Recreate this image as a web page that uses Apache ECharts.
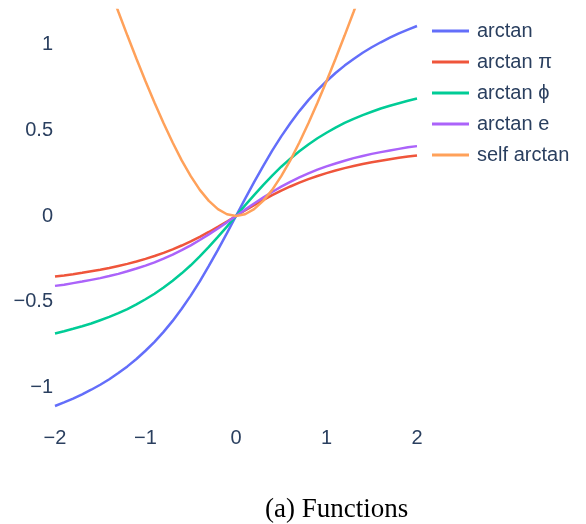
<!DOCTYPE html>
<html>
<head>
<meta charset="utf-8">
<script src="https://cdn.jsdelivr.net/npm/echarts@6/dist/echarts.min.js"></script>
<style>
  html, body { margin: 0; padding: 0; background: #fff; }
  #chart { width: 586px; height: 524px; }
</style>
</head>
<body>
<div id="chart"></div>
<script>
var xs = [-2, -1.9, -1.8, -1.7, -1.6, -1.5, -1.4, -1.3, -1.2, -1.1, -1, -0.9, -0.8, -0.7, -0.6, -0.5, -0.4, -0.3, -0.2, -0.1,
  0, 0.1, 0.2, 0.3, 0.4, 0.5, 0.6, 0.7, 0.8, 0.9, 1, 1.1, 1.2, 1.3, 1.4, 1.5, 1.6, 1.7, 1.8, 1.9, 2]

var arctanVals = [-1.107, -1.086, -1.064, -1.039, -1.012, -0.983, -0.951, -0.915, -0.876, -0.833, -0.785, -0.733, -0.675, -0.611, -0.540, -0.464, -0.381, -0.291, -0.197, -0.100,
  0, 0.100, 0.197, 0.291, 0.381, 0.464, 0.540, 0.611, 0.675, 0.733, 0.785, 0.833, 0.876, 0.915, 0.951, 0.983, 1.012, 1.039, 1.064, 1.086, 1.107]

var arctanPiVals = [-0.352, -0.346, -0.339, -0.331, -0.322, -0.313, -0.303, -0.291, -0.279, -0.265, -0.250, -0.233, -0.215, -0.194, -0.172, -0.148, -0.121, -0.093, -0.063, -0.032,
  0, 0.032, 0.063, 0.093, 0.121, 0.148, 0.172, 0.194, 0.215, 0.233, 0.250, 0.265, 0.279, 0.291, 0.303, 0.313, 0.322, 0.331, 0.339, 0.346, 0.352]

var arctanPhiVals = [-0.684, -0.671, -0.657, -0.642, -0.626, -0.607, -0.588, -0.566, -0.542, -0.515, -0.485, -0.453, -0.417, -0.377, -0.334, -0.287, -0.235, -0.180, -0.122, -0.062,
  0, 0.062, 0.122, 0.180, 0.235, 0.287, 0.334, 0.377, 0.417, 0.453, 0.485, 0.515, 0.542, 0.566, 0.588, 0.607, 0.626, 0.642, 0.657, 0.671, 0.684]

var arctanEVals = [-0.407, -0.400, -0.391, -0.382, -0.372, -0.362, -0.350, -0.337, -0.322, -0.306, -0.289, -0.270, -0.248, -0.225, -0.199, -0.171, -0.140, -0.107, -0.073, -0.037,
  0, 0.037, 0.073, 0.107, 0.140, 0.171, 0.199, 0.225, 0.248, 0.270, 0.289, 0.306, 0.322, 0.337, 0.350, 0.362, 0.372, 0.382, 0.391, 0.400, 0.407]

var selfArctanVals = [2.214, 2.064, 1.915, 1.767, 1.620, 1.474, 1.331, 1.190, 1.051, 0.916, 0.785, 0.660, 0.540, 0.428, 0.324, 0.232, 0.152, 0.088, 0.040, 0.010,
  0, 0.010, 0.040, 0.088, 0.152, 0.232, 0.324, 0.428, 0.540, 0.660, 0.785, 0.916, 1.051, 1.190, 1.331, 1.474, 1.620, 1.767, 1.915, 2.064, 2.214]

var seriesNames = ['arctan', 'arctan π', 'arctan ϕ', 'arctan e', 'self arctan']
var seriesColors = ['#636efa', '#EF553B', '#00cc96', '#ab63fa', '#FFA15A']
var seriesVals = [arctanVals, arctanPiVals, arctanPhiVals, arctanEVals, selfArctanVals]

function pairs(vals) {
  return xs.map(function(x, i) { return [x, vals[i]] })
}

function minusSign(v) {
  return String(v).replace('-', '\u2212')
}

var fontMain = 'Liberation Sans, Arial, sans-serif'
var labelColor = '#2a3f5f'

var series = seriesNames.map(function(name, i) {
  return {
    name: name,
    type: 'line',
    symbol: 'none',
    clip: true,
    data: pairs(seriesVals[i]),
    lineStyle: { width: 2.5, color: seriesColors[i] },
    itemStyle: { color: seriesColors[i] }
  }
})

var option = {
  animation: false,
  backgroundColor: '#fff',
  title: {
    text: '(a) Functions',
    left: 265,
    top: 496,
    padding: 0,
    textStyle: {
      fontFamily: 'Liberation Serif, Times New Roman, serif',
      fontSize: 27,
      fontWeight: 'normal',
      color: '#000'
    }
  },
  legend: {
    orient: 'vertical',
    left: 432,
    top: 21,
    padding: 0,
    icon: 'rect',
    itemWidth: 37,
    itemHeight: 3,
    itemGap: 11,
    textStyle: {
      fontFamily: fontMain,
      fontSize: 20,
      color: labelColor,
      padding: [0, 0, 0, 3]
    },
    data: seriesNames
  },
  grid: {
    left: 55,
    right: 169,
    top: 10,
    bottom: 102,
    containLabel: false
  },
  xAxis: {
    type: 'value',
    min: -2,
    max: 2,
    interval: 1,
    axisLine: { show: false },
    axisTick: { show: false },
    splitLine: { show: false },
    axisLabel: {
      margin: 6,
      fontFamily: fontMain,
      fontSize: 20,
      color: labelColor,
      formatter: minusSign
    }
  },
  yAxis: {
    type: 'value',
    min: -1.2,
    max: 1.2,
    splitNumber: 5,
    axisLine: { show: false },
    axisTick: { show: false },
    splitLine: { show: false },
    axisLabel: {
      margin: 2,
      showMinLabel: false,
      showMaxLabel: false,
      fontFamily: fontMain,
      fontSize: 20,
      color: labelColor,
      formatter: minusSign
    }
  },
  series: series
}

var myChart = echarts.init(document.getElementById('chart'), null, { renderer: 'canvas' })
myChart.setOption(option)
</script>
</body>
</html>
